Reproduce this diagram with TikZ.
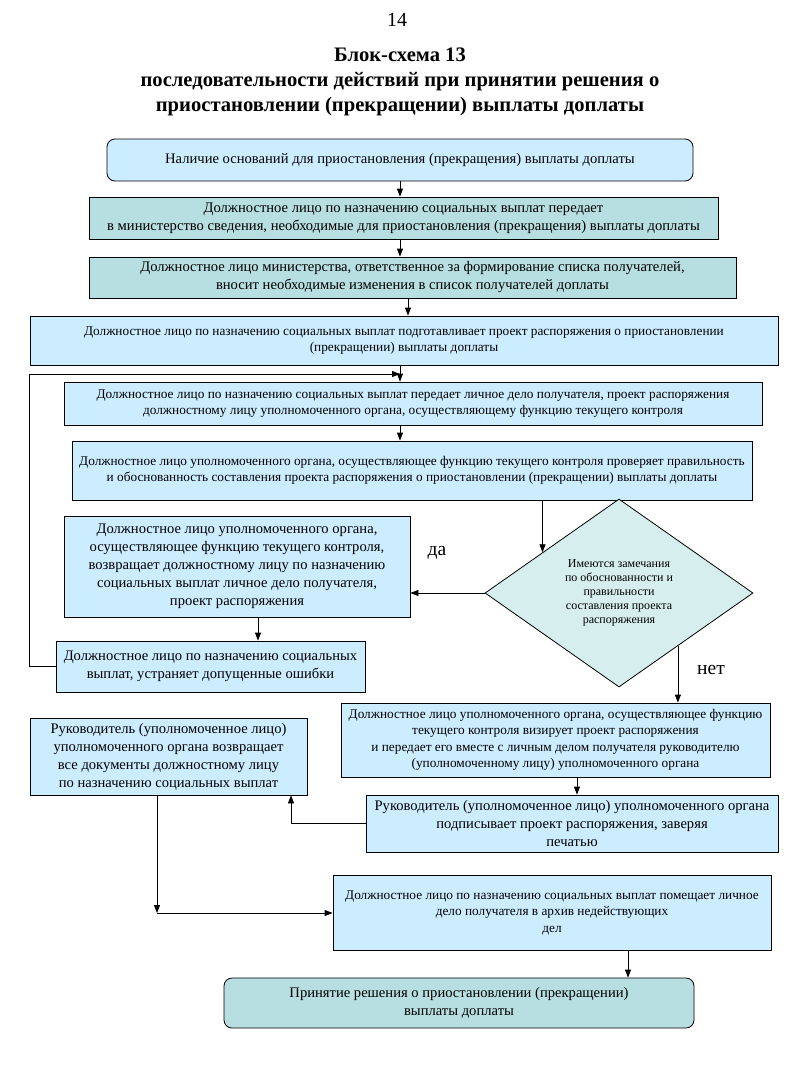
\documentclass[tikz,border=0pt]{standalone}
\usepackage{fontspec}
\setmainfont{Liberation Serif}
\newfontfamily\boxfont{Liberation Serif}
\usetikzlibrary{arrows.meta}
\usetikzlibrary{shapes.geometric}
\definecolor{lblue}{HTML}{CCECFF}
\definecolor{lteal}{HTML}{B7DEE0}
\definecolor{pteal}{HTML}{D6EEEE}
\newcommand{\bsize}[2]{\boxfont\fontsize{#1}{#2}\selectfont}

\begin{document}
\begin{tikzpicture}[x=1pt,y=-1pt,>={Triangle[length=8pt,width=6pt]},line width=0.8pt,
		act/.style={rectangle,draw=black,fill=lblue,inner sep=0pt,align=center,font=\bsize{14.6}{18}},
		org/.style={act,fill=lteal},
		dense/.style={font=\bsize{13.3}{16.5}},
		ask/.style={diamond,draw=black,fill=pteal,inner sep=0pt,align=center,font=\bsize{12}{14}},
		answer/.style={font=\fontsize{19.5}{22}\selectfont}]
		\useasboundingbox (0,0) rectangle (800,1066);
		
		\node (page) at (397,20) {\fontsize{20}{22}\selectfont 14};
		\node[align=center,font=\bfseries\fontsize{20.6}{25}\selectfont] (title) at (400,82)
			{Блок-схема 13\\последовательности действий при принятии решения о\\приостановлении (прекращении) выплаты доплаты};
		
		\node[act,rounded corners=8pt,minimum width=586pt,minimum height=42pt] (start) at (400,160)
			{Наличие оснований для приостановления (прекращения) выплаты доплаты};
		\node[org,minimum width=629pt,minimum height=42pt] (inform) at (403.5,218)
			{Должностное лицо по назначению социальных выплат передает\\в министерство сведения, необходимые для приостановления (прекращения) выплаты доплаты};
		\node[org,minimum width=647pt,minimum height=41pt] (change) at (412.5,277.5)
			{Должностное лицо министерства, ответственное за формирование списка получателей,\\вносит необходимые изменения в список получателей доплаты};
		\node[act,dense,minimum width=748pt,minimum height=49pt] (prepare) at (404,340.5)
			{Должностное лицо по назначению социальных выплат подготавливает проект распоряжения о приостановлении\\(прекращении) выплаты доплаты};
		\node[act,dense,minimum width=698pt,minimum height=43pt] (transfer) at (413,403.5)
			{Должностное лицо по назначению социальных выплат передает личное дело получателя, проект распоряжения\\должностному лицу уполномоченного органа, осуществляющему функцию текущего контроля};
		\node[act,dense,minimum width=680pt,minimum height=59pt] (check) at (412,470.5)
			{Должностное лицо уполномоченного органа, осуществляющее функцию текущего контроля проверяет правильность\\и обоснованность составления проекта распоряжения о приостановлении (прекращении) выплаты доплаты};
		\node[ask,minimum width=268pt,minimum height=188pt] (remarks) at (619,593)
			{Имеются замечания\\по обоснованности и\\правильности\\составления проекта\\распоряжения};
		\node[act,minimum width=346pt,minimum height=101pt] (return) at (237,566.5)
			{Должностное лицо уполномоченного органа,\\осуществляющее функцию текущего контроля,\\возвращает должностному лицу по назначению\\социальных выплат личное дело получателя,\\проект распоряжения};
		\node[act,minimum width=309pt,minimum height=51pt] (fix) at (210.5,666.5)
			{Должностное лицо по назначению социальных\\выплат, устраняет допущенные ошибки};
		\node[act,dense,minimum width=429pt,minimum height=74pt] (visa) at (555.5,740)
			{Должностное лицо уполномоченного органа, осуществляющее функцию\\текущего контроля визирует проект распоряжения\\и передает его вместе с личным делом получателя руководителю\\(уполномоченному лицу) уполномоченного органа};
		\node[act,minimum width=412pt,minimum height=57pt] (sign) at (572,823.5)
			{Руководитель (уполномоченное лицо) уполномоченного органа\\подписывает проект распоряжения, заверяя\\печатью};
		\node[act,minimum width=277pt,minimum height=77pt] (back) at (168.5,756.5)
			{Руководитель (уполномоченное лицо)\\уполномоченного органа возвращает\\все документы должностному лицу\\по назначению социальных выплат};
		\node[act,dense,minimum width=438pt,minimum height=75pt] (archive) at (552,912.5)
			{Должностное лицо по назначению социальных выплат помещает личное\\дело получателя в архив недействующих\\дел};
		\node[org,rounded corners=8pt,minimum width=470pt,minimum height=50pt] (decision) at (459,1003)
			{Принятие решения о приостановлении (прекращении)\\выплаты доплаты};
		
		\node[answer] (yes) at (437,553) {да};
		\node[answer] (no) at (711,670) {нет};
		
		\coordinate (loop) at (400,374);
		\coordinate (join) at (157,913);
		
		\draw[->] (start) -- (start |- inform.north);
		\draw[->] (inform.south -| start) -- (change.north -| start);
		\draw[->] ([xshift=-4.5pt]change.south) -- ([xshift=-4.5pt]change.south |- prepare.north);
		\draw[->] (prepare.south -| loop) -- (transfer.north -| loop);
		\draw[->] (fix.west) -- (fix.west -| prepare.west) |- (loop);
		\draw[->] (transfer.south -| loop) -- (check.north -| loop);
		\draw[->] (check.south -| remarks.152) -- (remarks.152);
		\draw[->] (remarks.west) -- (remarks.west -| return.east);
		\draw[->] ([xshift=21pt]return.south) -- ([xshift=21pt]return.south |- fix.north);
		\draw[->] (remarks.-42.6) -- (remarks.-42.6 |- visa.north);
		\draw[->] ([xshift=21.5pt]visa.south) -- ([xshift=21.5pt]visa.south |- sign.north);
		\draw[->] (sign.west) -| ([xshift=122.5pt]back.south);
		\draw[->] (back.south -| join) -- (join);
		\draw[->] (join) -- (join -| archive.west);
		\draw[->] ([xshift=76pt]archive.south) -- ([xshift=76pt]archive.south |- decision.north);
\end{tikzpicture}
\end{document}
